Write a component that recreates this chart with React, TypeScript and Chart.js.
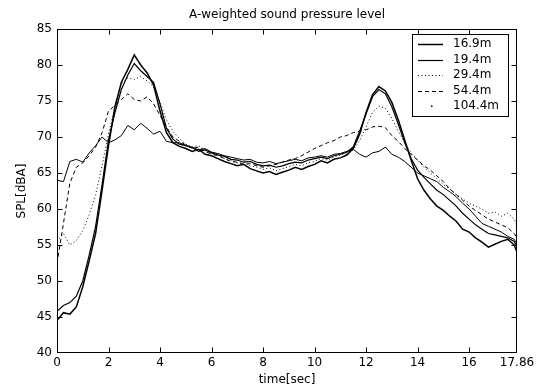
import React, { useEffect, useRef } from "react";
import { Chart, registerables } from "chart.js";
Chart.register(...registerables);

const chartTitle = "A-weighted sound pressure level";
const xAxisTitle = "time[sec]";
const yAxisTitle = "SPL[dBA]";

const times = [
  0, 0.25, 0.5, 0.75, 1, 1.25, 1.5, 1.75, 2, 2.25, 2.5, 2.75, 3, 3.25, 3.5, 3.75,
  4, 4.25, 4.5, 4.75, 5, 5.25, 5.5, 5.75, 6, 6.25, 6.5, 6.75, 7, 7.25, 7.5, 7.75,
  8, 8.25, 8.5, 8.75, 9, 9.25, 9.5, 9.75, 10, 10.25, 10.5, 10.75, 11, 11.25, 11.5, 11.75,
  12, 12.25, 12.5, 12.75, 13, 13.25, 13.5, 13.75, 14, 14.25, 14.5, 14.75, 15, 15.25, 15.5, 15.75,
  16, 16.25, 16.5, 16.75, 17, 17.25, 17.5, 17.75, 17.86,
];

const spl16_9 = [
  44.5, 45.6, 45.4, 46.4, 49.2, 52.8, 56.6, 62.6, 68.8, 74.2, 77.6, 79.4, 81.4, 80.0, 78.9, 77.2,
  73.6, 70.6, 69.2, 68.7, 68.4, 68.0, 68.3, 67.6, 67.4, 67.0, 66.6, 66.3, 66.0, 66.2, 65.6, 65.3,
  65.0, 65.2, 64.8, 65.1, 65.4, 65.8, 65.5, 65.9, 66.2, 66.7, 66.4, 66.9, 67.1, 67.5, 68.4, 70.4,
  73.4, 75.9, 77.0, 76.4, 74.8, 72.4, 69.6, 66.8, 64.2, 62.6, 61.4, 60.4, 59.8, 59.0, 58.3, 57.2,
  56.8, 56.0, 55.4, 54.7, 55.1, 55.5, 55.8, 55.0, 54.0,
];

const spl19_4 = [
  45.8, 46.6, 47.0, 47.9, 50.0, 53.6, 57.6, 63.4, 69.6, 73.4, 76.6, 78.6, 80.2, 79.2, 78.4, 77.6,
  74.6, 71.2, 69.7, 69.0, 68.8, 68.5, 68.0, 68.2, 67.8, 67.5, 67.3, 66.9, 66.8, 66.5, 66.6, 66.2,
  66.0, 66.1, 65.8, 66.0, 66.3, 66.5, 66.4, 66.8, 67.0, 67.2, 67.0, 67.4, 67.6, 67.9, 68.6, 70.8,
  73.2, 75.6, 76.6, 76.0, 74.2, 71.8, 69.2, 67.0, 65.4, 64.4, 63.5, 62.6, 62.0, 61.2, 60.4, 59.4,
  58.6, 57.8, 57.2, 56.6, 56.4, 56.2, 56.0, 55.5, 54.8,
];

const spl29_4 = [
  55.5, 56.6, 55.0, 55.6, 57.0, 59.2, 62.0, 66.0, 70.4, 74.2, 77.4, 78.2, 78.0, 78.4, 77.8, 77.0,
  74.8, 72.4, 70.8, 69.8, 69.0, 68.6, 68.8, 68.2, 67.8, 67.6, 67.0, 66.8, 66.4, 66.6, 66.0, 65.8,
  65.5, 65.7, 65.3, 65.6, 65.9, 66.2, 66.0, 66.4, 66.6, 67.0, 66.8, 67.2, 67.5, 67.8, 68.2, 69.5,
  71.4, 73.4, 74.3, 74.0, 72.6, 70.8, 69.2, 67.8, 66.8, 65.8, 65.0, 64.2, 63.4, 62.8, 62.0, 61.4,
  60.8, 60.4, 60.0, 59.4, 59.6, 59.0, 59.4, 58.6, 57.6,
];

const spl54_4 = [
  52.4, 58.0, 63.6, 65.8, 66.4, 67.4, 68.6, 70.6, 73.6, 74.4, 75.2, 76.0, 75.2, 75.0, 75.6, 74.6,
  73.0, 71.4, 70.0, 69.4, 68.9, 68.4, 68.6, 68.0, 67.6, 67.4, 67.0, 66.6, 66.5, 66.2, 66.3, 66.0,
  65.8, 66.0, 66.2, 66.5, 66.8, 67.0, 67.4, 67.9, 68.4, 68.8, 69.2, 69.5, 70.0, 70.2, 70.6, 70.8,
  71.0, 71.4, 71.5, 71.3, 70.2, 69.4, 68.4, 67.6, 66.8, 66.0, 65.4, 64.6, 63.8, 62.8, 62.0, 61.2,
  60.4, 59.8, 59.2, 58.6, 58.2, 57.8, 57.4, 56.6, 56.0,
];

const spl104_4 = [
  64.0, 63.8, 66.6, 66.9, 66.5, 67.8, 68.8, 70.0, 69.2, 69.6, 70.2, 71.6, 71.0, 71.9, 71.2, 70.4,
  70.8, 69.4, 69.2, 69.2, 68.8, 68.6, 68.2, 68.4, 67.9, 67.7, 67.4, 67.2, 67.0, 66.8, 66.9, 66.5,
  66.4, 66.6, 66.3, 66.5, 66.7, 66.9, 66.7, 67.1, 67.2, 67.4, 67.2, 67.6, 67.7, 68.0, 68.3, 67.6,
  67.2, 67.8, 68.0, 68.6, 67.6, 67.2, 66.6, 65.8, 65.0, 64.6, 64.2, 63.8, 63.0, 62.4, 61.7, 60.8,
  60.0, 59.0, 58.0, 57.6, 57.2, 56.8, 56.2, 55.8, 55.2,
];

const seriesLabels = ["16.9m", "19.4m", "29.4m", "54.4m", "104.4m"];
const seriesValues = [spl16_9, spl19_4, spl29_4, spl54_4, spl104_4];
const seriesWidths = [1.5, 1.2, 1, 1, 1];
const seriesDashes: number[][] = [[], [], [1, 2.5], [4, 3], []];

const xTickValues = [0, 2, 4, 6, 8, 10, 12, 14, 16, 17.86];
const yTickValues = [40, 45, 50, 55, 60, 65, 70, 75, 80, 85];

const FONT = "'DejaVu Sans', 'Liberation Sans', sans-serif";

const framePlugin = {
  id: "matlabFrame",
  afterDraw(chart: any) {
    const { ctx, chartArea: a, scales } = chart;
    const L = Math.round(a.left) + 0.5;
    const R = Math.round(a.right) - 0.5;
    const T = Math.round(a.top) + 0.5;
    const B = Math.round(a.bottom) - 0.5;
    ctx.save();
    ctx.strokeStyle = "#000";
    ctx.lineWidth = 1;
    ctx.setLineDash([]);
    ctx.strokeRect(L, T, R - L, B - T);
    const tl = 5;
    ctx.beginPath();
    for (const v of xTickValues) {
      if (v === xTickValues[0] || v === xTickValues[xTickValues.length - 1]) continue;
      const px = Math.round(scales.x.getPixelForValue(v)) + 0.5;
      ctx.moveTo(px, B);
      ctx.lineTo(px, B - tl);
      ctx.moveTo(px, T);
      ctx.lineTo(px, T + tl);
    }
    for (const v of yTickValues) {
      if (v === yTickValues[0] || v === yTickValues[yTickValues.length - 1]) continue;
      const py = Math.round(scales.y.getPixelForValue(v)) + 0.5;
      ctx.moveTo(L, py);
      ctx.lineTo(L + tl, py);
      ctx.moveTo(R, py);
      ctx.lineTo(R - tl, py);
    }
    ctx.stroke();

    // title
    ctx.fillStyle = "#000";
    ctx.font = `12px ${FONT}`;
    ctx.textAlign = "center";
    ctx.textBaseline = "middle";
    ctx.fillText(chartTitle, (a.left + a.right) / 2, 15);

    // legend box
    const bx = 412.5, by = 34.5, bw = 96, bh = 82;
    ctx.fillStyle = "#fff";
    ctx.fillRect(bx, by, bw, bh);
    ctx.strokeStyle = "#000";
    ctx.strokeRect(bx, by, bw, bh);
    const rowY = [44, 59.5, 75, 90.5, 106];
    ctx.textAlign = "left";
    ctx.fillStyle = "#000";
    seriesLabels.forEach((lab, i) => {
      const y = Math.round(rowY[i]) + 0.5;
      if (i === 4) {
        ctx.fillRect(431, y - 1, 1.5, 1.5);
      } else {
        ctx.beginPath();
        ctx.setLineDash(seriesDashes[i]);
        ctx.lineWidth = seriesWidths[i];
        ctx.moveTo(418, y);
        ctx.lineTo(443, y);
        ctx.stroke();
        ctx.setLineDash([]);
      }
      ctx.fillText(lab, 453, rowY[i]);
    });
    ctx.restore();
  },
};

export default function App() {
  const canvasRef = useRef<HTMLCanvasElement | null>(null);

  useEffect(() => {
    document.body.style.margin = "0";
    const canvas = canvasRef.current;
    if (!canvas) return;
    const datasets = seriesLabels.map((label, i) => ({
      label,
      data: times.map((t, j) => ({ x: t, y: seriesValues[i][j] })),
      borderColor: "#000",
      backgroundColor: "#000",
      borderWidth: seriesWidths[i],
      borderDash: seriesDashes[i],
      pointRadius: 0,
      tension: 0,
      fill: false,
    }));
    const chart = new Chart(canvas, {
      type: "line",
      data: { datasets },
      plugins: [framePlugin],
      options: {
        animation: false,
        responsive: false,
        maintainAspectRatio: false,
        layout: { padding: { top: 29, right: 23, left: 0, bottom: 0 } },
        plugins: {
          legend: { display: false },
          title: { display: false },
          tooltip: { enabled: false },
        },
        scales: {
          x: {
            type: "linear",
            min: 0,
            max: 17.86,
            afterBuildTicks: (scale: any) => {
              scale.ticks = xTickValues.map((v) => ({ value: v }));
            },
            afterFit: (scale: any) => {
              scale.height = 37;
            },
            grid: { display: false, drawTicks: false },
            border: { display: false },
            ticks: {
              autoSkip: false,
              maxRotation: 0,
              padding: 3,
              color: "#000",
              font: { family: FONT, size: 12 },
              callback: (v: any) => String(v),
            },
            title: {
              display: true,
              text: xAxisTitle,
              color: "#000",
              font: { family: FONT, size: 12 },
              padding: { top: 0, bottom: 3 },
            },
          },
          y: {
            type: "linear",
            min: 40,
            max: 85,
            afterBuildTicks: (scale: any) => {
              scale.ticks = yTickValues.map((v) => ({ value: v }));
            },
            afterFit: (scale: any) => {
              scale.width = 57;
            },
            grid: { display: false, drawTicks: false },
            border: { display: false },
            ticks: {
              padding: 5,
              color: "#000",
              font: { family: FONT, size: 12 },
              callback: (v: any) => String(v),
            },
            title: {
              display: true,
              text: yAxisTitle,
              color: "#000",
              font: { family: FONT, size: 12 },
              padding: { top: 15, bottom: 0 },
            },
          },
        },
      },
    });
    return () => chart.destroy();
  }, []);

  return (
    <div style={{ width: 540, height: 390, background: "#fff" }}>
      <canvas ref={canvasRef} width={540} height={390} style={{ display: "block" }} />
    </div>
  );
}
